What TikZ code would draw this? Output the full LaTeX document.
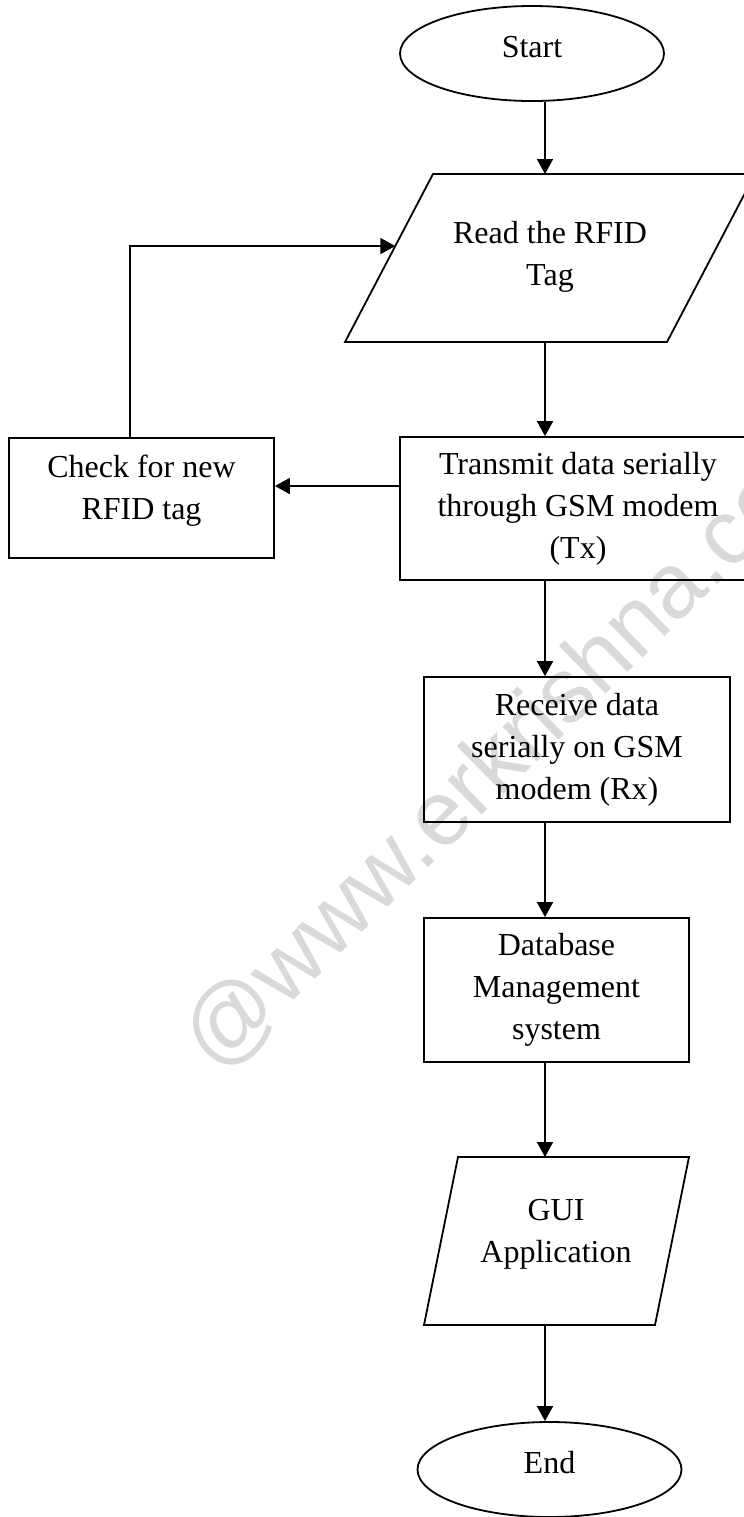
\documentclass[tikz,border=0pt]{standalone}
\usepackage{fontspec}
\setmainfont{Liberation Serif}
\newfontfamily\wmfont{Liberation Sans}
\usepackage{tikz}
\usetikzlibrary{shapes.geometric,arrows.meta}
\definecolor{ink}{HTML}{000000}
\definecolor{wmark}{HTML}{D9D9D9}
\tikzset{
  line/.style={draw=ink, line width=0.9pt, line join=miter},
  lab/.style={text=ink, font=\fontsize{16}{21}\selectfont, align=center},
  term/.style={line, lab, ellipse, minimum width=132pt, minimum height=47.5pt, inner sep=0pt, text depth=7pt},
  proc/.style={line, lab, rectangle, inner sep=0pt},
  arr/.style={line, -{Triangle[length=7.5pt,width=8pt]}},
}

\begin{document}
\begin{tikzpicture}[x=0.5pt,y=-0.5pt]
  \useasboundingbox (0,0) rectangle (744,1517);
  \node[text=wmark, font=\wmfont\fontsize{46}{46}\selectfont, rotate=44.4, anchor=base west, inner sep=0pt] (wm) at (217,1075) {@www.erkrishna.com};
  \coordinate (spine) at (545,0);
  \coordinate (loop) at (130,246);
  \coordinate (loopr) at (560,246);
  \coordinate (side) at (0,486);
  \coordinate (rdbl) at (345,342);
  \coordinate (rdtl) at (433,174);
  \coordinate (rdtr) at (755,174);
  \coordinate (rdbr) at (667,342);
  \coordinate (guibl) at (424,1325);
  \coordinate (guitl) at (458,1157);
  \coordinate (guitr) at (689,1157);
  \coordinate (guibr) at (655,1325);
  \draw[line] (rdbl) -- (rdtl) -- (rdtr) -- (rdbr) -- cycle;
  \draw[line] (guibl) -- (guitl) -- (guitr) -- (guibr) -- cycle;
  \node[term] (start) at (532,53.5) {Start};
  \node[lab] (read) at (550,257) {Read the RFID\\Tag};
  \node[proc, minimum width=178pt, minimum height=71.5pt] (tx) at (578,508.5) {Transmit data serially\\through GSM modem\\(Tx)};
  \node[proc, minimum width=132.5pt, minimum height=60pt, text depth=10.5pt] (check) at (141.5,498) {Check for new\\RFID tag};
  \node[proc, minimum width=153pt, minimum height=72.5pt] (rx) at (577,749.5) {Receive data\\serially on GSM\\modem (Rx)};
  \node[proc, minimum width=132.5pt, minimum height=72pt] (dbms) at (556.5,990) {Database\\Management\\system};
  \node[lab] (gui) at (556,1234.5) {GUI\\Application};
  \node[term] (end) at (549.5,1469.5) {End};
  \draw[arr] (start.south -| spine) -- (rdtl -| spine);
  \draw[arr] (rdbl -| spine) -- (tx.north -| spine);
  \draw[arr] (tx.west |- side) -- (check.east |- side);
  \draw[arr] (check.north -| loop) -- (loop) -- (intersection of rdbl--rdtl and loop--loopr);
  \draw[arr] (tx.south -| spine) -- (rx.north -| spine);
  \draw[arr] (rx.south -| spine) -- (dbms.north -| spine);
  \draw[arr] (dbms.south -| spine) -- (guitl -| spine);
  \draw[arr] (guibl -| spine) -- (end.north -| spine);
\end{tikzpicture}
\end{document}
